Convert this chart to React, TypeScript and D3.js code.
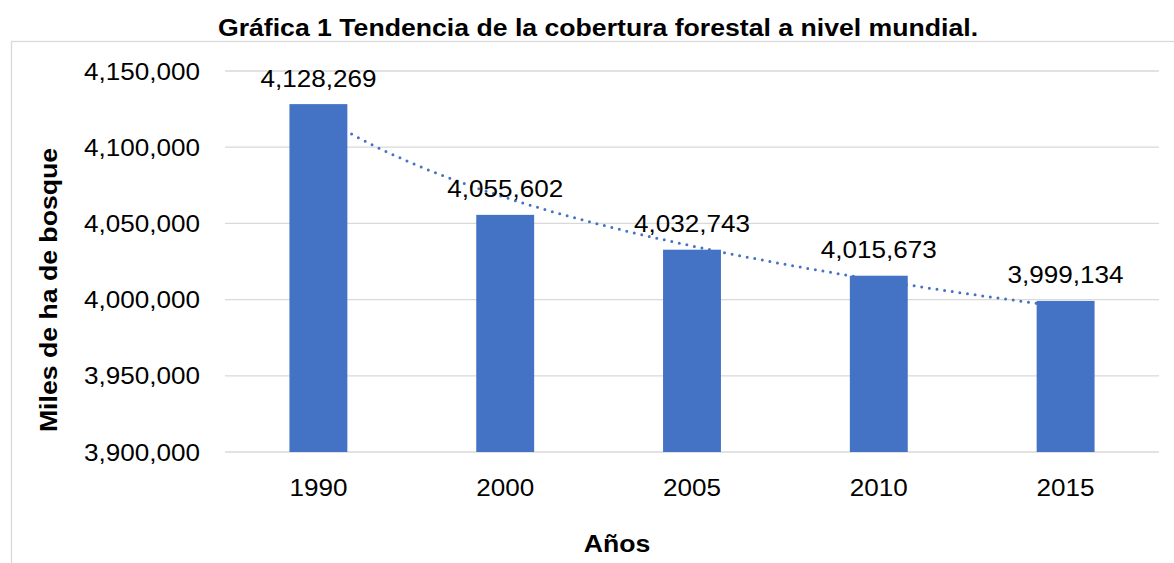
import React from "react";
import * as d3 from "d3";

const categories = ["1990", "2000", "2005", "2010", "2015"];
const values = [4128269, 4055602, 4032743, 4015673, 3999134];
const yTicks = [3900000, 3950000, 4000000, 4050000, 4100000, 4150000];
const title = "Gráfica 1 Tendencia de la cobertura forestal a nivel mundial.";
const yTitle = "Miles de ha de bosque";
const xTitle = "Años";

const W = 1174;
const H = 563;
const SX = 1.11;
const FONT = "Arial, 'Liberation Sans', sans-serif";

export default function App() {
  const left = 225, right = 1159, top = 71, bottom = 452;
  const x = d3.scaleBand().domain(categories).range([left, right]).paddingInner(0.69).paddingOuter(0.345);
  const y = d3.scaleLinear().domain([3900000, 4150000]).range([bottom, top]);
  const fmt = d3.format(",");

  // logarithmic trendline fit: v = a + b ln(i)
  const lx = values.map((_, i) => Math.log(i + 1));
  const mx = d3.mean(lx) as number;
  const my = d3.mean(values) as number;
  const b = d3.sum(lx.map((l, i) => (l - mx) * (values[i] - my))) / d3.sum(lx.map((l) => (l - mx) ** 2));
  const a = my - b * mx;
  const step = x.step();
  const c0 = (x(categories[0]) as number) + x.bandwidth() / 2;
  const pts: [number, number][] = d3.range(0, 4.0001, 0.05).map((t) => [c0 + t * step, y(a + b * Math.log(t + 1))]);
  const line = d3.line()(pts) as string;

  const txt = (props: any, s: string, px: number, py: number, rot = 0) => (
    <text transform={`translate(${px},${py}) rotate(${rot}) scale(${SX},1)`} fontFamily={FONT} {...props}>{s}</text>
  );

  return (
    <svg width={W} height={H} style={{ position: "absolute", left: 0, top: 0, background: "#fff" }}>
      <rect x={11.5} y={41.5} width={W} height={H} fill="#fff" stroke="#d9d9d9" strokeWidth={1.3} />
      {txt({ fontSize: 24, fontWeight: "bold", textAnchor: "middle", fill: "#000" }, title, 598, 36)}
      {yTicks.map((t) => (
        <g key={t}>
          <line x1={left} x2={right} y1={y(t)} y2={y(t)} stroke="#d9d9d9" strokeWidth={1.3} />
          {txt({ fontSize: 23.5, textAnchor: "end", fill: "#000" }, fmt(t), 200, y(t) + 8.5)}
        </g>
      ))}
      <path d={line} fill="none" stroke="#4472c4" strokeWidth={3} strokeDasharray="0 7.7" strokeLinecap="round" />
      {values.map((v, i) => (
        <rect key={i} x={x(categories[i])} y={y(v)} width={x.bandwidth()} height={bottom - y(v)} fill="#4472c4" />
      ))}
      {values.map((v, i) =>
        <g key={"l" + i}>{txt({ fontSize: 23.5, textAnchor: "middle", fill: "#000" }, fmt(v), (x(categories[i]) as number) + x.bandwidth() / 2, y(v) - 17.5)}</g>
      )}
      {categories.map((c) =>
        <g key={"c" + c}>{txt({ fontSize: 23.5, textAnchor: "middle", fill: "#000" }, c, (x(c) as number) + x.bandwidth() / 2, 496)}</g>
      )}
      {txt({ fontSize: 24, fontWeight: "bold", textAnchor: "middle", fill: "#000" }, yTitle, 57, 290, -90)}
      {txt({ fontSize: 24, fontWeight: "bold", textAnchor: "middle", fill: "#000" }, xTitle, 617, 552)}
    </svg>
  );
}
